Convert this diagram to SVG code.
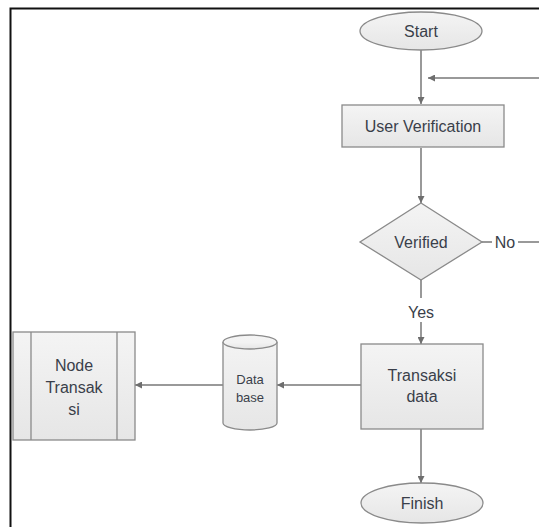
<svg xmlns="http://www.w3.org/2000/svg" width="539" height="527" viewBox="0 0 539 527">
<defs>
<linearGradient id="g" x1="0" y1="0" x2="0" y2="1">
<stop offset="0" stop-color="#f4f4f4"/>
<stop offset="1" stop-color="#e6e6e6"/>
</linearGradient>
<marker id="ah" viewBox="0 0 10 10" refX="10" refY="5" markerWidth="7" markerHeight="7" markerUnits="userSpaceOnUse" orient="auto">
<path d="M0,0 L10,5 L0,10 z" fill="#6e6e6e"/>
</marker>
</defs>
<style>
.shape{fill:url(#g);stroke:#8a8a8a;stroke-width:1.3}
.t{font-family:"Liberation Sans",Arial,sans-serif;font-size:16px;fill:#3a3f4a;text-anchor:middle}
.ts{font-family:"Liberation Sans",Arial,sans-serif;font-size:13px;fill:#3a3f4a;text-anchor:middle}
.c{fill:none;stroke:#777;stroke-width:1.5}
</style>
<rect x="0" y="0" width="539" height="527" fill="#fff"/>
<path d="M10.5,527 V8.5 H539" fill="none" stroke="#111" stroke-width="2"/>
<g id="connectors">
<path class="c" d="M421,50 V104" marker-end="url(#ah)"/>
<path class="c" d="M539,78 H428" marker-end="url(#ah)"/>
<path class="c" d="M421,148 V203" marker-end="url(#ah)"/>
<path class="c" d="M482,242 H492"/>
<path class="c" d="M518,242 H539"/>
<path class="c" d="M421,280 V298"/>
<path class="c" d="M421,322 V344" marker-end="url(#ah)"/>
<path class="c" d="M421,429 V483" marker-end="url(#ah)"/>
<path class="c" d="M361,385 H277" marker-end="url(#ah)"/>
<path class="c" d="M223,385 H135" marker-end="url(#ah)"/>
<text class="t" x="505" y="248">No</text>
<text class="t" x="421" y="318">Yes</text>
</g>
<g id="start">
<ellipse class="shape" cx="421" cy="31" rx="61" ry="19"/>
<text class="t" x="421" y="37">Start</text>
</g>
<g id="user-verification">
<rect class="shape" x="342" y="105" width="162" height="42"/>
<text class="t" x="423" y="132">User Verification</text>
</g>
<g id="verified">
<polygon class="shape" points="421,203 482,242 421,280 360,242"/>
<text class="t" x="421" y="248">Verified</text>
</g>
<g id="transaksi-data">
<rect class="shape" x="361" y="344" width="122" height="85"/>
<text class="t" x="422" y="381">Transaksi</text>
<text class="t" x="422" y="402">data</text>
</g>
<g id="finish">
<ellipse class="shape" cx="422" cy="503" rx="61" ry="20"/>
<text class="t" x="422" y="509">Finish</text>
</g>
<g id="database">
<path class="shape" d="M223,342 V423 A27,7 0 0 0 277,423 V342 A27,7 0 0 0 223,342 Z"/>
<path class="shape" d="M223,342 A27,7 0 0 0 277,342" fill="none"/>
<text class="ts" x="250" y="384">Data</text>
<text class="ts" x="250" y="402">base</text>
</g>
<g id="node-transaksi">
<rect class="shape" x="13" y="332" width="122" height="108"/>
<path class="shape" d="M31,332 V440 M117,332 V440"/>
<text class="t" x="74" y="371">Node</text>
<text class="t" x="74" y="393">Transak</text>
<text class="t" x="74" y="415">si</text>
</g>
</svg>
